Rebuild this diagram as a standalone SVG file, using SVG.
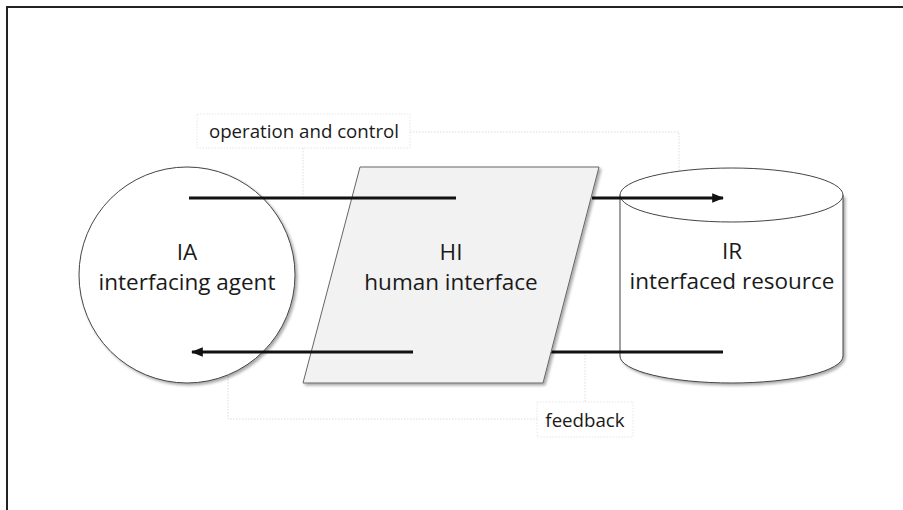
<svg xmlns="http://www.w3.org/2000/svg" width="903" height="510" viewBox="0 0 903 510">
<style>
.t{font-family:"Open Sans","Liberation Sans",sans-serif;fill:#1a1a1a;text-anchor:middle}
.big{font-size:22.5px}
.lab{font-size:18.7px}
.shape{stroke:#444;stroke-width:1}
.conn{stroke:#111;stroke-width:3;fill:none}
.call{stroke:#dcdcdc;stroke-width:1;fill:none;stroke-dasharray:1.5 1.5}
.lbox{fill:#fff;stroke:#e6e6e6;stroke-width:1;stroke-dasharray:1.5 1.5}
</style>
<defs>
<filter id="sh" x="-10%" y="-10%" width="130%" height="130%">
<feGaussianBlur in="SourceAlpha" stdDeviation="1.5"/>
<feOffset dx="2" dy="2" result="b"/>
<feComponentTransfer><feFuncA type="linear" slope="0.35"/></feComponentTransfer>
<feMerge><feMergeNode/><feMergeNode in="SourceGraphic"/></feMerge>
</filter>
<marker id="ah" viewBox="0 0 10 10" refX="9" refY="5" markerWidth="4" markerHeight="4" orient="auto-start-reverse">
<path d="M0,1 L10,5 L0,9 z" fill="#111"/>
</marker>
</defs>
<rect x="0" y="0" width="903" height="510" fill="#fff"/>
<rect x="7" y="7" width="920" height="520" fill="none" stroke="#222" stroke-width="2"/>

<g id="callouts">
<path class="call" d="M410,132 H679 V198"/>
<path class="call" d="M303,148 V198"/>
<path class="call" d="M228,352 V419 H537"/>
<path class="call" d="M585,352 V402"/>
</g>

<g id="IA">
<circle cx="187" cy="275" r="108" fill="#fff" class="shape" filter="url(#sh)"/>
<text class="t big" x="187" y="260">IA</text>
<text class="t big" x="187" y="290">interfacing agent</text>
</g>

<g id="IR">
<path d="M620,195 V356 A111.5,27 0 0 0 843,356 V195" fill="#fff" class="shape" filter="url(#sh)"/>
<ellipse cx="731.5" cy="195" rx="111.5" ry="27" fill="#fff" class="shape"/>
<text class="t big" x="732" y="259">IR</text>
<text class="t big" x="732" y="289">interfaced resource</text>
</g>

<g id="connectors-back">
<line class="conn" x1="592" y1="198" x2="723" y2="198" marker-end="url(#ah)"/>
<line class="conn" x1="551" y1="352" x2="723" y2="352"/>
</g>

<g id="HI">
<polygon points="360,167 599,167 543,383 303,383" fill="#f2f2f2" stroke="#666" stroke-width="1" filter="url(#sh)"/>
<text class="t big" x="451" y="260">HI</text>
<text class="t big" x="451" y="290">human interface</text>
</g>

<g id="connectors">
<line class="conn" x1="189" y1="198" x2="456" y2="198"/>
<line class="conn" x1="413" y1="352" x2="192" y2="352" marker-end="url(#ah)"/>
</g>

<g id="label-op">
<rect class="lbox" x="197" y="114" width="213" height="34"/>
<text class="t lab" x="304" y="138">operation and control</text>
</g>
<g id="label-fb">
<rect class="lbox" x="537" y="402" width="96" height="35"/>
<text class="t lab" x="585" y="427">feedback</text>
</g>
</svg>
